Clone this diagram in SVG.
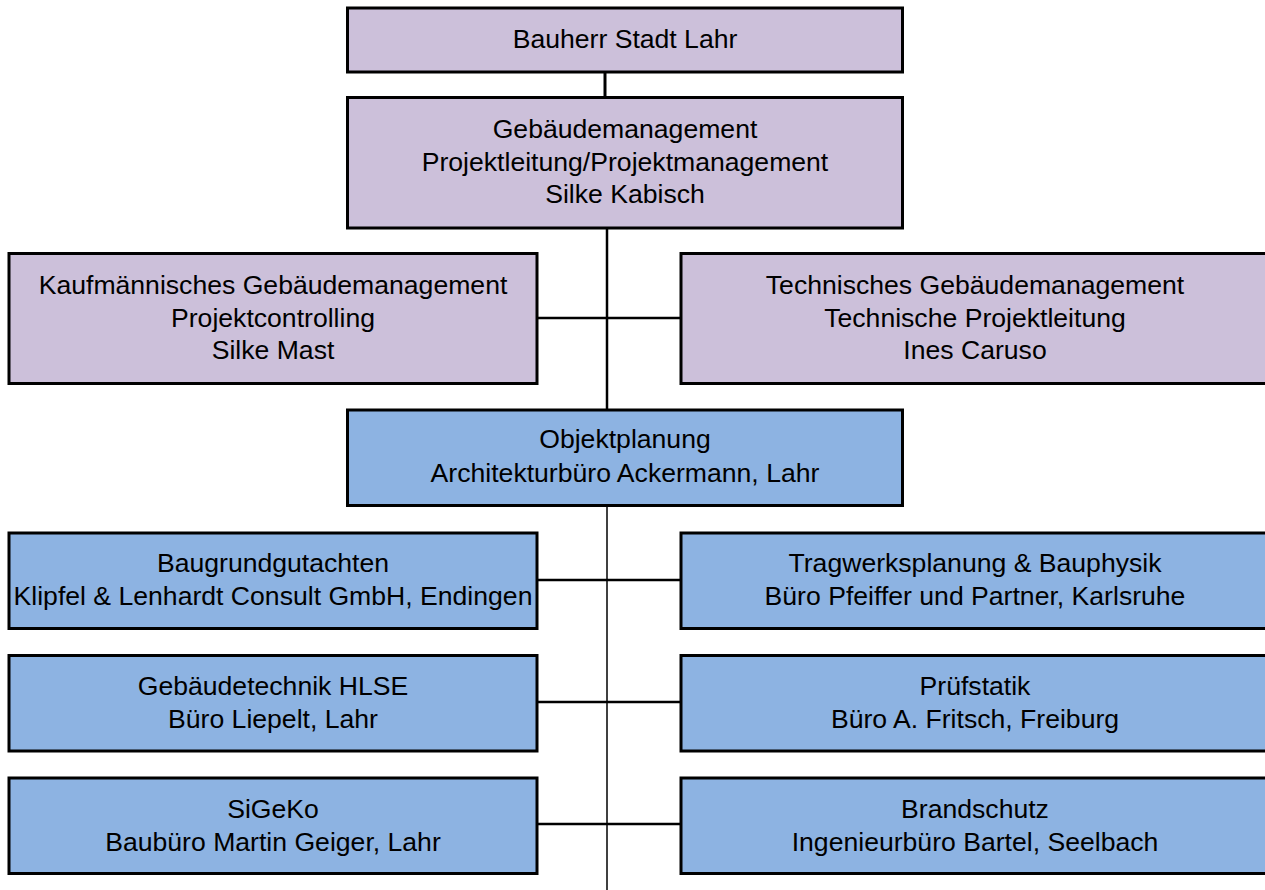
<svg xmlns="http://www.w3.org/2000/svg" width="1265" height="890" viewBox="0 0 1265 890">
<style>
.box{stroke:#000;stroke-width:3}
.p{fill:#CCC0DA}
.b{fill:#8DB3E2}
.t{font-family:"Liberation Sans",Arial,sans-serif;font-size:26.6px;fill:#000;text-anchor:middle}
.c{stroke:#000;fill:none}
</style>
<rect width="1265" height="890" fill="#fff"/>
<g id="connectors">
<line class="c" x1="605" y1="72" x2="605" y2="98" stroke-width="3"/>
<line class="c" x1="607" y1="228" x2="607" y2="410" stroke-width="2.5"/>
<line class="c" x1="538" y1="318" x2="680" y2="318" stroke-width="2.5"/>
<line class="c" x1="607" y1="505" x2="607" y2="890" stroke-width="1.5"/>
<line class="c" x1="538" y1="580" x2="680" y2="580" stroke-width="2.5"/>
<line class="c" x1="538" y1="702" x2="680" y2="702" stroke-width="2.5"/>
<line class="c" x1="538" y1="824" x2="680" y2="824" stroke-width="2.5"/>
</g>
<g id="bauherr">
<rect class="box p" x="347.5" y="8" width="555" height="64"/>
<text class="t" x="625" y="48">Bauherr Stadt Lahr</text>
</g>
<g id="gebaeudemanagement">
<rect class="box p" x="347.5" y="97.5" width="555" height="130.5"/>
<text class="t" x="625" y="138">Gebäudemanagement</text>
<text class="t" x="625" y="170.5">Projektleitung/Projektmanagement</text>
<text class="t" x="625" y="203">Silke Kabisch</text>
</g>
<g id="kaufmaennisch">
<rect class="box p" x="9" y="253.5" width="528" height="130"/>
<text class="t" x="273" y="294">Kaufmännisches Gebäudemanagement</text>
<text class="t" x="273" y="326.5">Projektcontrolling</text>
<text class="t" x="273" y="359">Silke Mast</text>
</g>
<g id="technisch">
<rect class="box p" x="681" y="253.5" width="600" height="130"/>
<text class="t" x="975" y="294">Technisches Gebäudemanagement</text>
<text class="t" x="975" y="326.5">Technische Projektleitung</text>
<text class="t" x="975" y="359">Ines Caruso</text>
</g>
<g id="objektplanung">
<rect class="box b" x="347.5" y="410" width="555" height="95.5"/>
<text class="t" x="625" y="448">Objektplanung</text>
<text class="t" x="625" y="481.5">Architekturbüro Ackermann, Lahr</text>
</g>
<g id="baugrund">
<rect class="box b" x="9" y="533" width="528" height="95.5"/>
<text class="t" x="273" y="572">Baugrundgutachten</text>
<text class="t" x="273" y="605">Klipfel &amp; Lenhardt Consult GmbH, Endingen</text>
</g>
<g id="tragwerk">
<rect class="box b" x="681" y="533" width="600" height="95.5"/>
<text class="t" x="975" y="572">Tragwerksplanung &amp; Bauphysik</text>
<text class="t" x="975" y="605">Büro Pfeiffer und Partner, Karlsruhe</text>
</g>
<g id="gebaeudetechnik">
<rect class="box b" x="9" y="655.5" width="528" height="95.5"/>
<text class="t" x="273" y="695">Gebäudetechnik HLSE</text>
<text class="t" x="273" y="728">Büro Liepelt, Lahr</text>
</g>
<g id="pruefstatik">
<rect class="box b" x="681" y="655.5" width="600" height="95.5"/>
<text class="t" x="975" y="695">Prüfstatik</text>
<text class="t" x="975" y="728">Büro A. Fritsch, Freiburg</text>
</g>
<g id="sigeko">
<rect class="box b" x="9" y="778" width="528" height="95.5"/>
<text class="t" x="273" y="817.5">SiGeKo</text>
<text class="t" x="273" y="850.5">Baubüro Martin Geiger, Lahr</text>
</g>
<g id="brandschutz">
<rect class="box b" x="681" y="778" width="600" height="95.5"/>
<text class="t" x="975" y="817.5">Brandschutz</text>
<text class="t" x="975" y="850.5">Ingenieurbüro Bartel, Seelbach</text>
</g>
</svg>
